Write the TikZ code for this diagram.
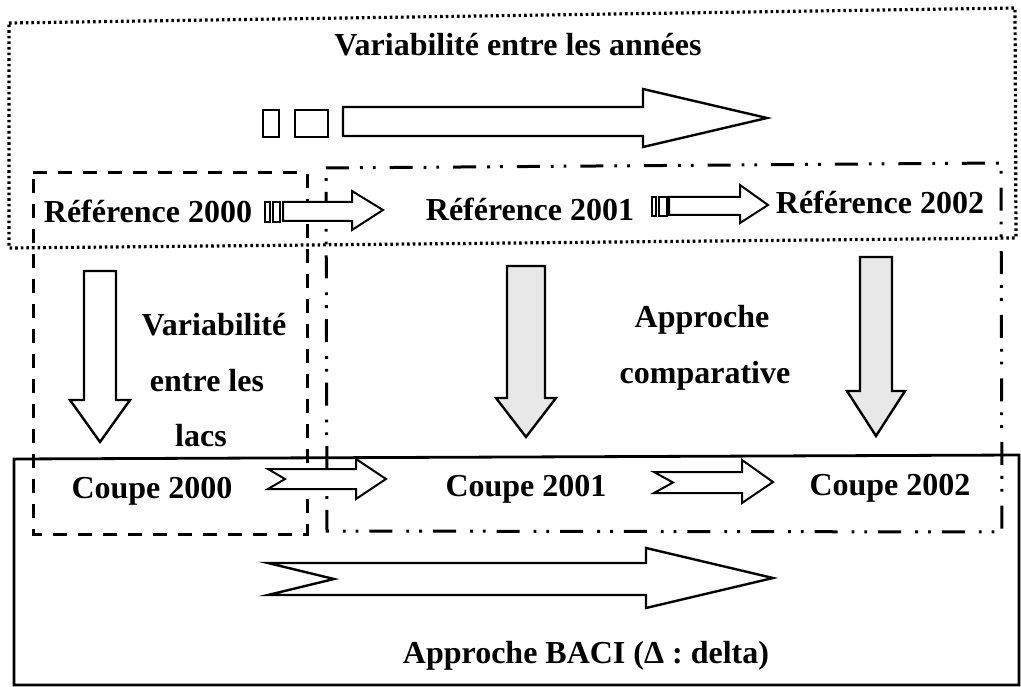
\documentclass[tikz,border=0pt]{standalone}
\usepackage{fontspec}
\setmainfont{Liberation Serif}
\begin{document}
\begin{tikzpicture}[x=1pt,y=-1pt,
  lbl/.style={font=\fontsize{32}{36}\selectfont\bfseries, inner sep=0pt, anchor=base},
  blk/.style={draw=black, line width=2.4pt, fill=white, line join=miter},
  sblk/.style={blk, line width=2pt},
  gblk/.style={blk, fill=black!9},
  dotbox/.style={line width=3.2pt, dash pattern=on 2.6pt off 3pt},
  dashbox/.style={line width=3pt, dash pattern=on 14pt off 11pt},
  ddbox/.style={line width=3pt, dash pattern=on 23pt off 11pt on 2.8pt off 10pt on 2.8pt off 14pt},
  solidbox/.style={line width=2.8pt}]
\useasboundingbox (0,0) rectangle (1021,687);

% frames
\draw[dotbox] (9,23) -- (1015,8) -- (1016,238) -- (9,248) -- cycle;
\draw[dashbox] (33,173) -- (307,173) -- (307,534) -- (33,534) -- cycle;
\draw[ddbox] (326,168) -- (1001,163) -- (1002,532) -- (327,531) -- cycle;
\draw[solidbox] (14,459) -- (1019,455) -- (1019,685) -- (14,685) -- cycle;

% texts
\node[lbl] (tvar) at (518,56) {Variabilité entre les années};
\node[lbl] (r2000) at (148,223) {Référence 2000};
\node[lbl] (r2001) at (530,221) {Référence 2001};
\node[lbl] (r2002) at (880,214) {Référence 2002};
\node[lbl] (vl1) at (214,336) {Variabilité};
\node[lbl] (vl2) at (207,391) {entre les};
\node[lbl] (vl3) at (201,446) {lacs};
\node[lbl] (ac1) at (702,328) {Approche};
\node[lbl] (ac2) at (705,383) {comparative};
\node[lbl] (c2000) at (152,498) {Coupe 2000};
\node[lbl] (c2001) at (526,496) {Coupe 2001};
\node[lbl] (c2002) at (890,495) {Coupe 2002};
\node[lbl] (baci) at (586,663) {Approche BACI (Δ : delta)};

% top striped arrow
\draw[blk] (263,110) rectangle (279,137);
\draw[blk] (295,110) rectangle (328,137);
\draw[blk] (343,107) -- (643,107) -- (643,89) -- (767,118) -- (643,147) -- (643,136) -- (343,136) -- cycle;

% reference arrows
\draw[sblk] (265,202) rectangle (270,222);
\draw[sblk] (273,202) rectangle (280,222);
\draw[sblk] (283,202) -- (352,202) -- (352,191) -- (383,210) -- (352,230) -- (352,221) -- (283,221) -- cycle;
\draw[sblk] (652,197) rectangle (656,216);
\draw[sblk] (659,197) rectangle (667,216);
\draw[sblk] (669,197) -- (740,197) -- (740,185) -- (768,205) -- (740,223) -- (740,215) -- (669,215) -- cycle;

% down arrows
\draw[blk] (84,271) -- (116,271) -- (116,400) -- (130,400) -- (100,442) -- (70,400) -- (84,400) -- cycle;
\draw[gblk] (507,266) -- (545,266) -- (545,398) -- (556,398) -- (526,437) -- (496,398) -- (507,398) -- cycle;
\draw[gblk] (860,257) -- (892,257) -- (892,391) -- (905,391) -- (876,436) -- (847,391) -- (860,391) -- cycle;

% coupe arrows
\draw[sblk] (268,469) -- (356,469) -- (356,459) -- (386,479) -- (356,499) -- (356,489) -- (268,489) -- (285,479) -- cycle;
\draw[sblk] (654,472) -- (742,472) -- (742,460) -- (773,482) -- (742,503) -- (742,493) -- (654,493) -- (673,482.5) -- cycle;
\draw[blk] (268,563) -- (646,563) -- (646,548) -- (773,578) -- (646,608) -- (646,595) -- (268,595) -- (334,579) -- cycle;
\end{tikzpicture}
\end{document}
